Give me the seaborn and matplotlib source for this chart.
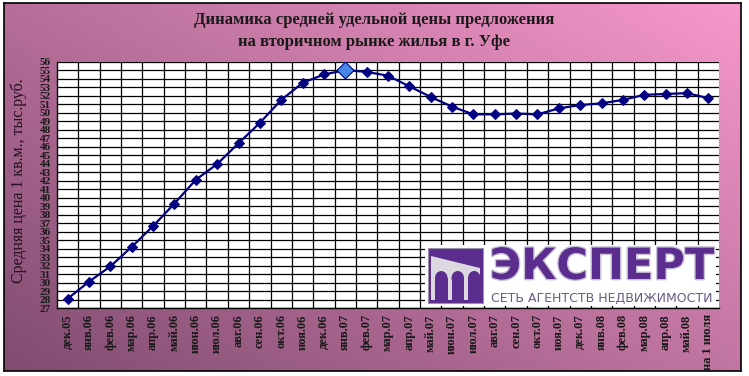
import numpy as np
import pandas as pd
import matplotlib
matplotlib.use("Agg")
import matplotlib.pyplot as plt
from matplotlib.patches import Rectangle, Polygon, Ellipse
import matplotlib.patheffects as pe
import seaborn as sns

# ---------------- data ----------------
months = ['дек.05', 'янв.06', 'фев.06', 'мар.06', 'апр.06', 'май.06', 'июн.06',
          'июл.06', 'авг.06', 'сен.06', 'окт.06', 'ноя.06', 'дек.06', 'янв.07',
          'фев.07', 'мар.07', 'апр.07', 'май.07', 'июн.07', 'июл.07', 'авг.07',
          'сен.07', 'окт.07', 'ноя.07', 'дек.07', 'янв.08', 'фев.08', 'мар.08',
          'апр.08', 'май.08', 'на 1 июля']
price = [28.1, 30.1, 31.9, 34.2, 36.65, 39.3, 42.1, 43.95, 46.4, 48.8, 51.5,
         53.5, 54.5, 55.0, 54.8, 54.35, 53.1, 51.85, 50.7, 49.8, 49.8, 49.9,
         49.8, 50.5, 50.9, 51.1, 51.5, 52.1, 52.2, 52.3, 51.7]
highlight_month = 'янв.07'
y_ticks = list(range(27, 57))

title_lines = ['Динамика средней удельной цены предложения',
               'на вторичном рынке жилья в г. Уфе']
y_title = 'Средняя цена 1 кв.м., тыс.руб.'
logo_name = 'ЭКСПЕРТ'
logo_sub = 'СЕТЬ АГЕНТСТВ НЕДВИЖИМОСТИ'

df = pd.DataFrame({'idx': range(len(months)), 'month': months, 'price': price})
hl = df[df['month'] == highlight_month]

# ---------------- figure ----------------
W, H = 749, 376
sns.set_style('white')
plt.rcParams['font.family'] = ['Liberation Serif', 'DejaVu Serif']
fig = plt.figure(figsize=(W / 100, H / 100), dpi=100, facecolor='white')


def px(x0, y0, x1, y1):
    return [x0 / W, 1 - y1 / H, (x1 - x0) / W, (y1 - y0) / H]


# gradient background with frame
bg = fig.add_axes(px(4, 3, 741, 371))
nx, ny = 200, 100
u = np.linspace(0, 1, nx)[None, :]
v = np.linspace(1, 0, ny)[:, None]
t = ((1 - u) * 0.55 + (1 - v) * 0.45)
dark = np.array([0x80, 0x4c, 0x70]) / 255
light = np.array([0xf7, 0x98, 0xca]) / 255
img = light[None, None, :] * (1 - t[..., None]) + dark[None, None, :] * t[..., None]
bg.imshow(img, aspect='auto', extent=[0, 1, 0, 1], interpolation='bilinear')
bg.set_xticks([]); bg.set_yticks([])
for s in bg.spines.values():
    s.set_color('black'); s.set_linewidth(1.2)

# main plot
ax = fig.add_axes(px(57, 61.7, 719, 308))
ax.set_facecolor('white')
sns.lineplot(data=df, x='idx', y='price', ax=ax, color='#000080', linewidth=1.6,
             marker='D', markersize=5, markeredgecolor='#000080', zorder=5)
sns.scatterplot(data=hl, x='idx', y='price', ax=ax, marker='D', s=75,
                color='#4a86e8', edgecolor='#000080', linewidth=0.8, zorder=6)

ax.set_xlim(-0.5, len(months) - 0.5)
ax.set_ylim(y_ticks[0], y_ticks[-1])
ax.set_xticks(df['idx'])
ax.set_xticklabels(months, rotation=90, fontsize=9, fontweight='bold', color='#1a1a1a')
ax.set_xticks(np.arange(0.5, len(months) - 1, 1), minor=True)
ax.set_yticks(y_ticks)
ax.set_yticklabels([str(t) for t in y_ticks], fontsize=8, fontweight='bold', color='#1a1a1a')
ax.tick_params(axis='x', which='major', length=0, pad=4.5)
ax.tick_params(axis='x', which='minor', length=3.5, width=0.9, direction='out', color='black')
ax.tick_params(axis='y', which='major', length=3.5, width=0.9, direction='out', color='black', pad=1)
ax.grid(False)
ax.grid(True, which='minor', axis='x', color='black', linewidth=0.9)
ax.grid(True, which='major', axis='y', color='black', linewidth=0.9)
ax.set_axisbelow(True)
ax.set_xlabel(''); ax.set_ylabel('')
for side in ['top', 'right']:
    ax.spines[side].set_visible(False)
for side in ['left', 'bottom']:
    ax.spines[side].set_color('black'); ax.spines[side].set_linewidth(1.0)

# titles
fig.text(374 / W, 1 - 20 / H, title_lines[0], ha='center', va='center',
         fontsize=12, fontweight='bold', color='#1a1a1a')
fig.text(374 / W, 1 - 42 / H, title_lines[1], ha='center', va='center',
         fontsize=12, fontweight='bold', color='#1a1a1a')
fig.text(19 / W, 1 - 181 / H, y_title, rotation=90, ha='center', va='center',
         fontsize=11.5, color='#241020')

# logo block
lg = fig.add_axes(px(425, 245, 716, 306))
lg.set_xlim(0, 291); lg.set_ylim(61, 0)
lg.set_facecolor('white')
lg.set_xticks([]); lg.set_yticks([])
for s in lg.spines.values():
    s.set_visible(False)
purple = '#5b2d8e'
lg.add_patch(Rectangle((3, 3), 55, 55, facecolor=purple, edgecolor='#9a90a8', lw=0.8))
lg.add_patch(Rectangle((6, 6), 49, 49, facecolor='#dcd8e0', edgecolor='none'))
lg.add_patch(Polygon([(6, 6), (55, 6), (55, 23), (6, 11)], closed=True,
                     facecolor=purple, edgecolor='none'))
for x0 in (10, 26.5, 43):
    lg.add_patch(Rectangle((x0, 33), 12.5, 22, facecolor=purple, edgecolor='none'))
    lg.add_patch(Ellipse((x0 + 6.25, 33), 12.5, 14, facecolor=purple, edgecolor='none'))
lg.text(177, 22, logo_name, ha='center', va='center', fontsize=31,
        fontweight='bold', family='DejaVu Sans', color=purple,
        path_effects=[pe.withStroke(linewidth=2, foreground='#c8c0d4')])
lg.text(177, 53, logo_sub, ha='center', va='center', fontsize=9,
        family='DejaVu Sans', color='#6a5a85')

fig.savefig('out.png', dpi=100, facecolor='white')
